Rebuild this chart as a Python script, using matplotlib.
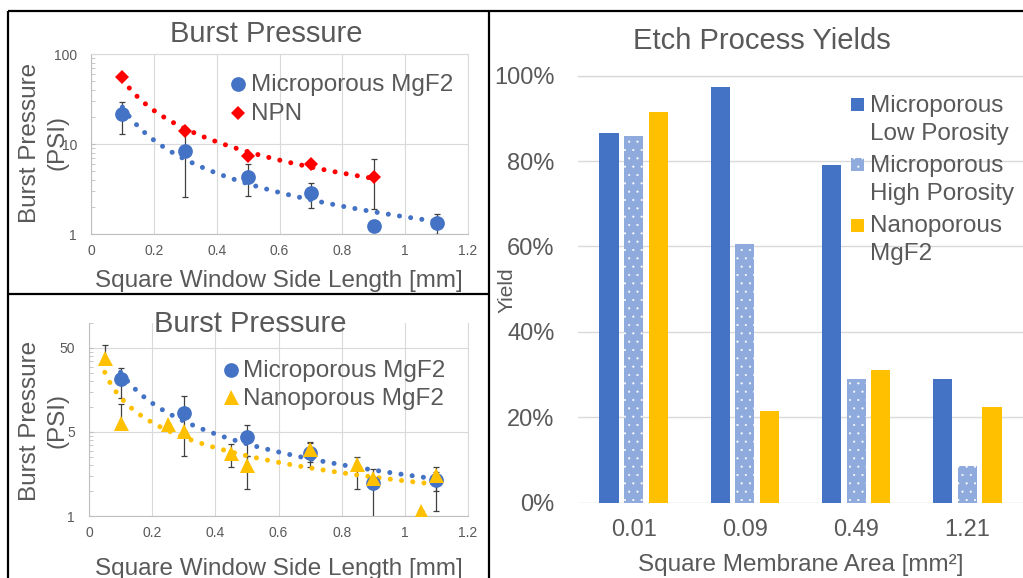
import numpy as np
import matplotlib
matplotlib.use("Agg")
import matplotlib.pyplot as plt
from matplotlib.lines import Line2D
from matplotlib.patches import Rectangle
from matplotlib.ticker import FixedLocator, FuncFormatter, NullFormatter, PercentFormatter

plt.rcParams['font.family'] = ['Liberation Sans', 'DejaVu Sans']
plt.rcParams['hatch.linewidth'] = 0.3

# ---- Burst pressure (PSI) vs square window side length (mm) ----
micro_x = [0.1, 0.3, 0.5, 0.7, 0.9, 1.1]
micro_psi = [21.5, 8.4, 4.3, 2.85, 1.23, 1.34]
micro_lo = [12.8, 2.6, 2.62, 1.93, 1.23, 1.0]
micro_hi = [29.0, 13.5, 6.0, 3.72, 1.23, 1.66]

npn_x = [0.1, 0.3, 0.5, 0.7, 0.9]
npn_psi = [55.0, 14.1, 7.35, 6.0, 4.27]
npn_lo = [55.0, 14.1, 7.35, 6.0, 1.9]
npn_hi = [55.0, 14.1, 7.35, 6.0, 6.9]

nano_x = [0.05, 0.1, 0.25, 0.3, 0.45, 0.5, 0.7, 0.85, 0.9, 1.05, 1.1]
nano_psi = [37.7, 6.35, 6.17, 5.14, 2.79, 2.02, 3.11, 2.08, 1.41, 0.58, 1.54]
nano_lo = [33.0, 5.5, 6.17, 5.14, 1.93, 1.05, 2.2, 1.05, 0.4, 0.58, 0.58]
nano_hi = [54.3, 10.7, 6.17, 5.14, 3.57, 2.6, 3.84, 2.5, 1.8, 0.58, 1.9]

# ---- Etch process yields (%) by membrane area ----
areas = ['0.01', '0.09', '0.49', '1.21']
yield_low = [86.6, 97.3, 79.1, 28.9]
yield_high = [85.8, 60.6, 28.9, 8.5]
yield_nano = [91.5, 21.5, 31.1, 22.4]

BLUE = '#4472C4'
LIGHT = '#8FAADC'
YELLOW = '#FFC000'
RED = '#FF0000'
TEXT = '#595959'
GRID = '#D9D9D9'
AXIS = '#BFBFBF'
ERR = '#404040'

W, H = 1023, 578
fig = plt.figure(figsize=(W / 100, H / 100), dpi=100)
fig.patch.set_facecolor('white')


def fx(x):
    return x / W


def fy(y):
    return 1 - y / H


def axes_px(left, top, right, bottom):
    return fig.add_axes([fx(left), fy(bottom), (right - left) / W, (bottom - top) / H])


def power_trend(ax, x, y, color):
    b, lna = np.polyfit(np.log(x), np.log(y), 1)
    xs = np.linspace(min(x), max(x), 300)
    ax.plot(xs, np.exp(lna) * xs ** b, color=color, lw=3.6,
            linestyle=(0, (0.01, 2.25)), dash_capstyle='round', zorder=2)


def errbars(ax, x, y, lo, hi):
    y = np.asarray(y)
    yerr = [y - np.asarray(lo), np.asarray(hi) - y]
    ax.errorbar(x, y, yerr=yerr, fmt='none', ecolor=ERR, elinewidth=0.9,
                capsize=2.2, capthick=0.9, zorder=1)


def style_burst(ax):
    ax.set_xlim(0, 1.2)
    ax.set_xticks(np.arange(0, 1.21, 0.2))
    ax.xaxis.set_major_formatter(FuncFormatter(lambda v, p: f'{v:g}'))
    ax.grid(True, which='major', color=GRID, lw=0.8)
    ax.set_axisbelow(True)
    ax.tick_params(axis='x', length=0, pad=7, labelsize=10, labelcolor=TEXT)
    ax.tick_params(axis='y', which='both', direction='in', length=3, color=AXIS,
                   pad=10, labelsize=10, labelcolor=TEXT)
    for s in ('left', 'bottom'):
        ax.spines[s].set_color(AXIS)
        ax.spines[s].set_linewidth(0.8)
    ax.spines['right'].set_color(GRID)
    ax.spines['right'].set_linewidth(0.8)
    ax.spines['top'].set_color(GRID)
    ax.spines['top'].set_linewidth(0.8)


# ---------------- Top-left: Microporous vs NPN ----------------
ax1 = axes_px(91, 54, 468, 234)
ax1.set_yscale('log')
ax1.set_ylim(1, 100)
style_burst(ax1)
ax1.yaxis.set_major_locator(FixedLocator([1, 10, 100]))
ax1.yaxis.set_major_formatter(FuncFormatter(lambda v, p: f'{v:g}'))
ax1.yaxis.set_minor_locator(FixedLocator([k for k in range(2, 10)] + [10 * k for k in range(2, 10)]))
ax1.yaxis.set_minor_formatter(NullFormatter())

power_trend(ax1, micro_x, micro_psi, BLUE)
power_trend(ax1, npn_x, npn_psi, RED)
errbars(ax1, micro_x, micro_psi, micro_lo, micro_hi)
errbars(ax1, npn_x, npn_psi, npn_lo, npn_hi)
ax1.plot(micro_x, micro_psi, 'o', color=BLUE, ms=10.6, mew=0, zorder=3)
ax1.plot(npn_x, npn_psi, 'D', color=RED, ms=6.8, mew=0, zorder=4)

# ---------------- Bottom-left: Microporous vs Nanoporous ----------------
ax2 = axes_px(89, 322.7, 468, 516)
ax2.set_yscale('log')
ax2.set_ylim(0.5, 100)
style_burst(ax2)
ax2.spines['top'].set_visible(False)
ax2.yaxis.set_major_locator(FixedLocator([0.5, 5, 50]))
ax2.yaxis.set_major_formatter(FuncFormatter(lambda v, p: str(int(np.floor(v + 0.5)))))
ax2.yaxis.set_minor_locator(FixedLocator([0.5 * k for k in range(2, 10)] +
                                         [5 * k for k in range(2, 10)] + [100]))
ax2.yaxis.set_minor_formatter(NullFormatter())

power_trend(ax2, micro_x, micro_psi, BLUE)
power_trend(ax2, nano_x, nano_psi, YELLOW)
errbars(ax2, micro_x, micro_psi, micro_lo, micro_hi)
errbars(ax2, nano_x, nano_psi, nano_lo, nano_hi)
ax2.plot(micro_x, micro_psi, 'o', color=BLUE, ms=10.6, mew=0, zorder=3)
ax2.plot(nano_x, nano_psi, '^', color=YELLOW, ms=10.8, mew=0, zorder=4)

# ---------------- Right: etch process yields ----------------
ax3 = axes_px(578, 75.7, 1023, 502.6)
xc = np.arange(len(areas))
bw, off = 0.173, 0.221
ax3.bar(xc - off, yield_low, bw, color=BLUE, linewidth=0, zorder=2)
ax3.bar(xc, yield_high, bw, color=LIGHT, hatch='..', edgecolor='white', linewidth=0, zorder=2)
ax3.bar(xc + off, yield_nano, bw, color=YELLOW, linewidth=0, zorder=2)
ax3.set_xlim(-0.5, len(areas) - 0.5)
ax3.set_ylim(0, 100)
ax3.set_xticks(xc)
ax3.set_xticklabels(areas)
ax3.set_yticks(np.arange(0, 101, 20))
ax3.yaxis.set_major_formatter(PercentFormatter(decimals=0))
ax3.yaxis.grid(True, color=GRID, lw=1.0, zorder=0)
ax3.set_axisbelow(True)
for s in ('left', 'right', 'bottom'):
    ax3.spines[s].set_visible(False)
ax3.spines['top'].set_color(GRID)
ax3.spines['top'].set_linewidth(1.0)
ax3.tick_params(axis='y', length=0, pad=17, labelsize=17, labelcolor=TEXT)
ax3.tick_params(axis='x', length=0, pad=12, labelsize=17, labelcolor=TEXT)

# ---------------- Titles and axis labels ----------------
def ftext(x, y, s, size, **kw):
    fig.text(fx(x), fy(y), s, fontsize=size, color=TEXT, **kw)


ftext(266, 41.7, 'Burst Pressure', 21, ha='center', va='baseline')
ftext(250, 331.7, 'Burst Pressure', 21, ha='center', va='baseline')
ftext(762, 49.3, 'Etch Process Yields', 21, ha='center', va='baseline')

ftext(278.5, 287.3, 'Square Window Side Length [mm]', 17.5, ha='center', va='baseline')
ftext(278.5, 575.0, 'Square Window Side Length [mm]', 17.5, ha='center', va='baseline')
ftext(800.5, 571.3, 'Square Membrane Area [mm\u00b2]', 17.5, ha='center', va='baseline')

for yc in (142.5, 421.0):
    ftext(36.0, yc, 'Burst Pressure', 17.5, ha='center', va='baseline',
          rotation=90, rotation_mode='anchor')
    ftext(63.0, yc, '(PSI)', 17.5, ha='center', va='baseline',
          rotation=90, rotation_mode='anchor')
ftext(513.0, 289.7, 'Yield', 15, ha='center', va='baseline',
      rotation=90, rotation_mode='anchor')

# ---------------- Legends ----------------
def legend_marker(x, y, marker, color, ms):
    fig.add_artist(Line2D([fx(x)], [fy(y)], marker=marker, color=color, ms=ms,
                          mew=0, linestyle='none', transform=fig.transFigure))


legend_marker(238.3, 84.0, 'o', BLUE, 10.6)
ftext(250.7, 90.7, 'Microporous MgF2', 17.5, ha='left', va='baseline')
legend_marker(238.3, 112.7, 'D', RED, 6.8)
ftext(250.7, 120.0, 'NPN', 17.5, ha='left', va='baseline')

legend_marker(231.0, 370.0, 'o', BLUE, 10.6)
ftext(243.3, 377.3, 'Microporous MgF2', 17.5, ha='left', va='baseline')
legend_marker(231.0, 397.3, '^', YELLOW, 10.8)
ftext(243.3, 405.0, 'Nanoporous MgF2', 17.5, ha='left', va='baseline')

legend_rows = [
    (BLUE, None, 98.3, ('Microporous', 'Low Porosity'), (111.7, 140.0)),
    (LIGHT, '..', 158.3, ('Microporous', 'High Porosity'), (171.7, 200.0)),
    (YELLOW, None, 219.0, ('Nanoporous', 'MgF2'), (232.3, 260.0)),
]
for color, hatch, top, lines, bases in legend_rows:
    fig.add_artist(Rectangle((fx(851.3), fy(top + 13.0)), 12.7 / W, 13.0 / H,
                             transform=fig.transFigure, facecolor=color,
                             edgecolor='white' if hatch else color,
                             hatch=hatch, linewidth=0))
    for s, b in zip(lines, bases):
        ftext(869.7, b, s, 17.5, ha='left', va='baseline')

# ---------------- Panel borders ----------------
def border(x0, y0, x1, y1):
    fig.add_artist(Line2D([fx(x0), fx(x1)], [fy(y0), fy(y1)], color='black',
                          lw=1.6, transform=fig.transFigure, solid_capstyle='butt'))


border(7.5, 10.7, 1023, 10.7)
border(8.3, 10.7, 8.3, 578)
border(488.7, 10.7, 488.7, 578)
border(8.3, 294.3, 488.7, 294.3)

fig.savefig('out.png', dpi=100, facecolor='white')
